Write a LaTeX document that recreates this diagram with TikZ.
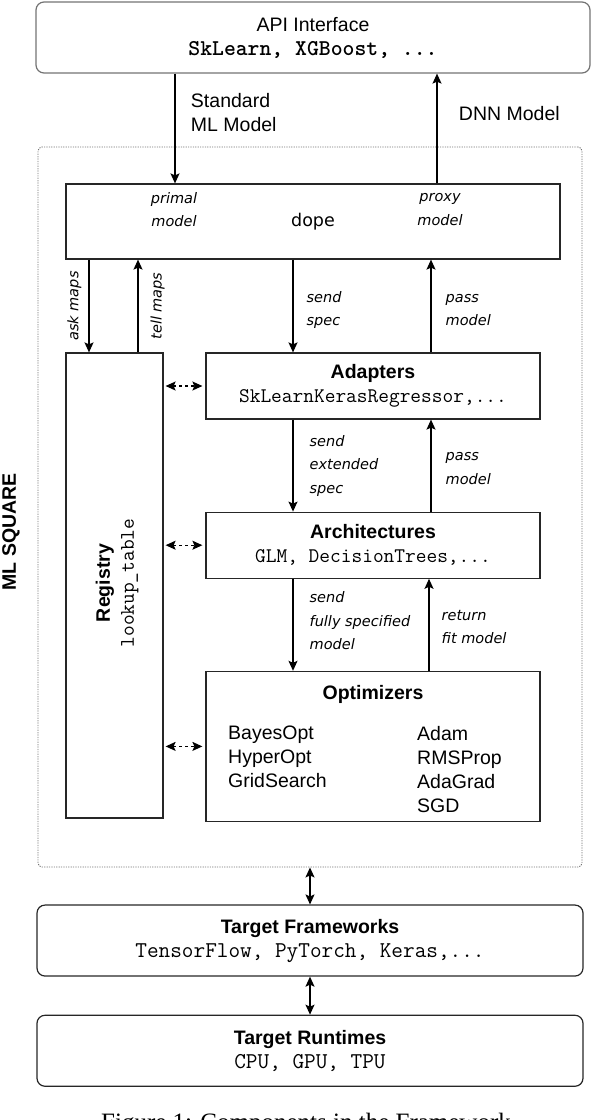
\documentclass[tikz,border=0pt]{standalone}
\usepackage{fontspec}
\setmainfont{Liberation Sans}
\newfontfamily\djvfont{DejaVu Sans}
\newfontfamily\capfont{Liberation Serif}
\usepackage{tikz}
\usetikzlibrary{positioning,arrows.meta}

\newcommand{\mainfnt}{\fontsize{19.5}{24}\selectfont}
\newcommand{\lblfnt}{\djvfont\itshape\fontsize{14.5}{23.5}\selectfont}
\newcommand{\codefnt}{\ttfamily\fontsize{20.8}{24}\selectfont}
\newcommand{\bigcode}{\ttfamily\fontsize{22.6}{24}\selectfont}

\begin{document}
\begin{tikzpicture}[x=1pt,y=-1pt,node distance=92pt,>={Stealth[length=10pt,width=9pt,inset=2pt]}]
    \tikzstyle{box}=[draw=black!85,line width=1.2pt,rectangle,align=center,font=\mainfnt,inner sep=0pt]
    \tikzstyle{rbox}=[box,rounded corners=8pt]
    \tikzstyle{outer}=[draw=black!55,dash pattern=on 1.2pt off 1.2pt,line width=0.9pt,rounded corners=4pt,inner sep=0pt]
    \tikzstyle{lbl}=[font=\lblfnt,align=left,inner sep=0pt]
    \tikzstyle{flow}=[->,line width=1.3pt]
    \tikzstyle{regflow}=[<->,dashed,line width=1.3pt,shorten <=2pt,shorten >=3pt]
    \path[use as bounding box,clip] (0,0) rectangle (592,1120);

    % ML square frame
    \node[outer,minimum width=544,minimum height=720] (ml) at (310,507) {};
    \node[rotate=90,font=\mainfnt\bfseries] (mlsq) at (11,532) {ML SQUARE};

    \node[rbox,draw=black!55,minimum width=554,minimum height=71] (api) at (313,37.5) {API Interface\\{\bigcode\bfseries SkLearn, XGBoost, ...}};
    \node[box,minimum width=494,minimum height=75] (dope) at (313,221.5) {\djvfont\fontsize{17.5}{20}\selectfont dope};
    \node[lbl,align=center] (primal) at (174,209.5) {primal\\model};
    \node[lbl,align=center] (proxy) at (440,209.5) {proxy\\model};

    \node[box,minimum width=97,minimum height=465] (reg) at (114.5,585.5) {};
    \node[rotate=90,align=center,font=\mainfnt] (regtxt) at (117,583) {\textbf{Registry}\\{\codefnt lookup\_table}};

    \node[box,minimum width=334,minimum height=66] (adapt) at (373,386) {\textbf{Adapters}\\{\codefnt SkLearnKerasRegressor,...}};
    \node[box,minimum width=334,minimum height=66] (arch) [below=of adapt] {\textbf{Architectures}\\{\codefnt GLM, DecisionTrees,...}};
    \node[box,minimum width=334,minimum height=150] (optim) [below=of arch] {};
    \node[font=\mainfnt\bfseries] (optitle) at ([yshift=-24pt]optim.north) {Optimizers};
    \node[anchor=north west,align=left,font=\mainfnt,inner sep=0pt] (search) at (228,726) {BayesOpt\\HyperOpt\\GridSearch};
    \node[anchor=north west,align=left,font=\mainfnt,inner sep=0pt] (solvers) at (417,726) {Adam\\RMSProp\\AdaGrad\\SGD};

    \node[rbox,minimum width=546,minimum height=71] (tf) [below=37pt of ml] {\textbf{Target Frameworks}\\{\bigcode TensorFlow, PyTorch, Keras,...}};
    \node[rbox,minimum width=546,minimum height=71] (tr) [below=38pt of tf] {\textbf{Target Runtimes}\\{\bigcode CPU, GPU, TPU}};

    \node[font=\capfont\fontsize{25}{30}\selectfont,anchor=base] (cap) at (306,1130) {Figure 1: Components in the Framework};

    \path[flow]
        ([xshift=-138]api.south) edge node[pos=0.35,anchor=west,xshift=12pt,align=left,font=\mainfnt] {Standard\\ML Model} ([xshift=-138]dope.north)
        ([xshift=124]dope.north) edge node[pos=0.64,anchor=west,xshift=18pt,font=\mainfnt] {DNN Model} ([xshift=124]api.south)
        ([xshift=-224]dope.south) edge node[midway,lbl,rotate=90,anchor=south,inner sep=7pt] {ask maps} ([xshift=-25.5]reg.north)
        ([xshift=23.5]reg.north) edge node[midway,lbl,rotate=90,anchor=north,inner sep=12pt] {tell maps} ([xshift=-175]dope.south)
        ([xshift=-20]dope.south) edge node[midway,lbl,anchor=west,xshift=13pt,yshift=-4pt] {send\\spec} ([xshift=-80]adapt.north)
        ([xshift=58]adapt.north) edge node[midway,lbl,anchor=west,xshift=14pt,yshift=-4pt] {pass\\model} ([xshift=118]dope.south)
        ([xshift=-80]adapt.south) edge node[midway,lbl,anchor=west,xshift=16pt] {send\\extended\\spec} ([xshift=-80]arch.north)
        ([xshift=58]arch.north) edge node[midway,lbl,anchor=west,xshift=14pt,yshift=-3pt] {pass\\model} ([xshift=58]adapt.south)
        ([xshift=-80]arch.south) edge node[midway,lbl,anchor=west,xshift=16pt,yshift=4pt] {send\\fully specified\\model} ([xshift=-80]optim.north)
        ([xshift=56]optim.north) edge node[midway,lbl,anchor=west,xshift=12pt,yshift=-2pt] {return\\fit model} ([xshift=56]arch.south);

    \draw[regflow] (reg.east |- adapt.west) -- (adapt.west);
    \draw[regflow] (reg.east |- arch.west) -- (arch.west);
    \draw[regflow] (reg.east |- optim.west) -- (optim.west);

    \draw[<->,line width=1.3pt] (ml.south) -- (tf.north);
    \draw[<->,line width=1.3pt] (tf.south) -- (tr.north);
\end{tikzpicture}
\end{document}
